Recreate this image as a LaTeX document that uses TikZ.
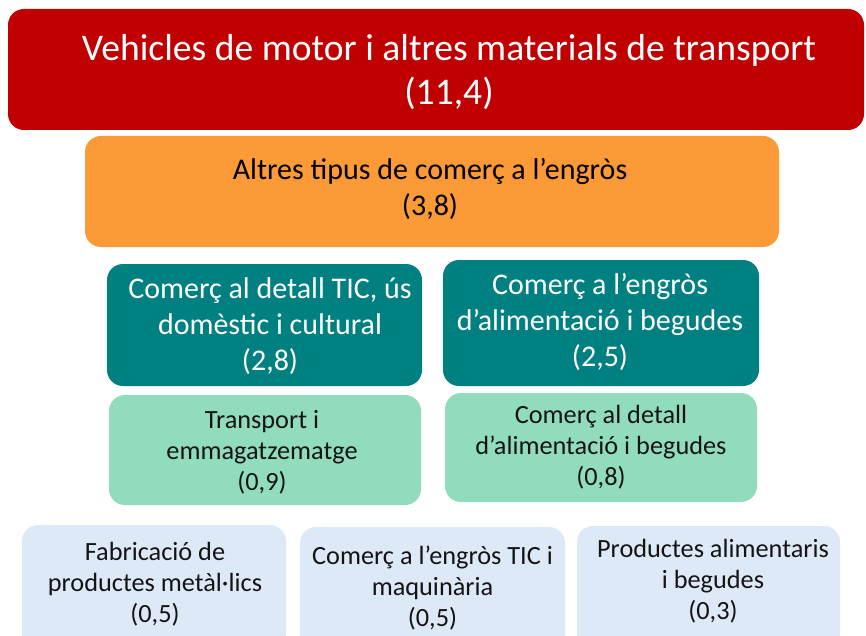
\documentclass[tikz,border=0pt]{standalone}
\usepackage{fontspec}
\setmainfont{Carlito}
\definecolor{cred}{RGB}{192,0,0}
\definecolor{corange}{RGB}{251,154,55}
\definecolor{cteal}{RGB}{0,128,128}
\definecolor{cgreen}{RGB}{146,220,190}
\definecolor{cblue}{RGB}{221,233,246}
\definecolor{ctext}{RGB}{20,20,20}
\begin{document}
\begin{tikzpicture}[x=1pt,y=-1pt,
  box/.style={rounded corners=16pt,inner sep=0pt,draw=none},
  lbl/.style={align=center,inner sep=0pt},
  big/.style={lbl,font=\fontsize{37.6}{44}\selectfont,text=white},
  mid/.style={lbl,font=\fontsize{30}{36}\selectfont},
  sml/.style={lbl,font=\fontsize{26.3}{31}\selectfont,text=ctext}]
\useasboundingbox (0,0) rectangle (866,636);
\clip (0,0) rectangle (866,636);
% boxes
\node[box,fill=cred,minimum width=856pt,minimum height=121pt] (b1) at (436,69.5) {};
\node[box,fill=corange,minimum width=694pt,minimum height=111pt] (b2) at (432,191.5) {};
\node[box,fill=cteal,minimum width=315pt,minimum height=122pt] (b3) at (264.5,325) {};
\node[box,fill=cteal,minimum width=316pt,minimum height=126pt] (b4) at (601,323) {};
\node[box,fill=cgreen,minimum width=312pt,minimum height=110pt] (b5) at (265,450) {};
\node[box,fill=cgreen,minimum width=312pt,minimum height=109pt] (b6) at (601,447.5) {};
\node[box,fill=cblue,minimum width=264pt,minimum height=125pt] (b7) at (154,587.5) {};
\node[box,fill=cblue,minimum width=265pt,minimum height=123pt] (b8) at (432.5,588.5) {};
\node[box,fill=cblue,minimum width=263pt,minimum height=124pt] (b9) at (708.5,588) {};
% texts
\node[big] (t1) at (449,72.5) {Vehicles de motor i altres materials de transport\\(11,4)};
\node[mid,text=black] (t2) at (430,189) {Altres tipus de comerç a l’engròs\\(3,8)};
\node[mid,text=white] (t3) at (270,326.5) {Comerç al detall TIC, ús\\domèstic i cultural\\(2,8)};
\node[mid,text=white] (t4) at (600,322.5) {Comerç a l’engròs\\d’alimentació i begudes\\(2,5)};
\node[sml] (t5) at (262,452) {Transport i\\emmagatzematge\\(0,9)};
\node[sml] (t6) at (601,447) {Comerç al detall\\d’alimentació i begudes\\(0,8)};
\node[sml] (t7) at (155,584) {Fabricació de\\productes metàl·lics\\(0,5)};
\node[sml] (t8) at (432.5,588.5) {Comerç a l’engròs TIC i\\maquinària\\(0,5)};
\node[sml] (t9) at (713,581.5) {Productes alimentaris\\i begudes\\(0,3)};
\end{tikzpicture}
\end{document}
